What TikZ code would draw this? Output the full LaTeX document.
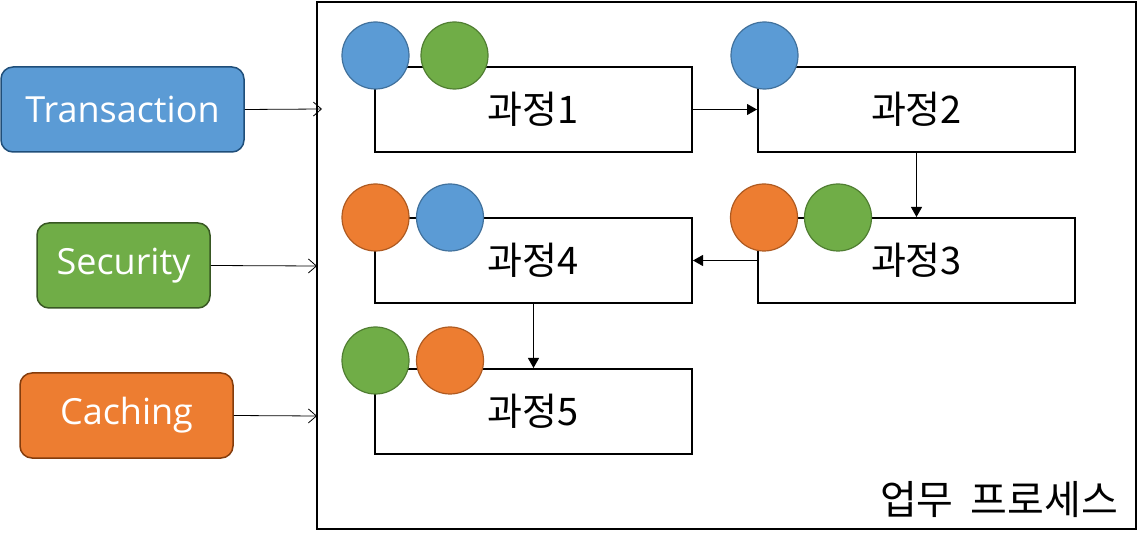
\documentclass[tikz,border=0pt]{standalone}
\usepackage{fontspec}
\setmainfont{Open Sans}
\newfontfamily\kor{Noto Sans CJK KR}
\usetikzlibrary{arrows.meta}
\definecolor{cblue}{HTML}{5B9BD5}
\definecolor{cbluel}{HTML}{41719C}
\definecolor{cblued}{HTML}{1F4E79}
\definecolor{cgreen}{HTML}{70AD47}
\definecolor{cgreenl}{HTML}{507E32}
\definecolor{cgreend}{HTML}{385723}
\definecolor{corange}{HTML}{ED7D31}
\definecolor{corangel}{HTML}{AE5A21}
\definecolor{coranged}{HTML}{843C0C}
\tikzset{
  aspect/.style={draw=#1, line width=1.5pt, rounded corners=12pt, minimum height=85pt, text=white, font=\fontsize{36}{40}\selectfont, inner sep=0pt},
  proc/.style={draw=black, line width=2pt, minimum width=317pt, minimum height=85pt, font=\kor\fontsize{38}{42}\selectfont, inner sep=0pt},
  dot/.style={circle, minimum size=67pt, inner sep=0pt, line width=1.2pt},
  bdot/.style={dot, fill=cblue, draw=cbluel},
  gdot/.style={dot, fill=cgreen, draw=cgreenl},
  odot/.style={dot, fill=corange, draw=corangel},
  inarrow/.style={line width=0.8pt, -{Straight Barb[length=8pt,width=14pt,line width=0.8pt]}},
  flow/.style={line width=0.8pt, -{Triangle[length=10pt,width=11pt]}},
}
\begin{document}
\begin{tikzpicture}[x=1pt,y=-1pt]
\useasboundingbox (0,0) rectangle (1144,545);
\node[draw=black, line width=2pt, minimum width=819pt, minimum height=527pt, inner sep=0pt] (frame) at (726.5,265.5) {};
\node[anchor=south east, font=\kor\fontsize{40}{44}\selectfont, inner sep=0pt] (title) at (1118,518) {업무\hspace{8pt} 프로세스};

\node[aspect=cblued, fill=cblue, minimum width=243pt] (tx) at (122.5,109.5) {Transaction};
\node[aspect=cgreend, fill=cgreen, minimum width=173pt] (sec) at (123.5,265.5) {Security};
\node[aspect=coranged, fill=corange, minimum width=213pt] (cache) at (126.5,415.5) {Caching};

\coordinate (txin) at (322,109);
\coordinate (secin) at (317,266);
\coordinate (cachein) at (317,416);
\draw[inarrow] (tx.east) -- (txin);
\draw[inarrow] (sec.east) -- (secin);
\draw[inarrow] (cache.east) -- (cachein);

\node[proc] (p1) at (533.5,109.5) {과정1};
\node[proc] (p2) at (916.5,109.5) {과정2};
\node[proc] (p3) at (916.5,260.5) {과정3};
\node[proc] (p4) at (533.5,260.5) {과정4};
\node[proc] (p5) at (533.5,411.5) {과정5};

\draw[flow] (p1.east) -- (p2.west);
\draw[flow] (p2.south) -- (p3.north);
\draw[flow] (p3.west) -- (p4.east);
\draw[flow] (p4.south) -- (p5.north);

\node[bdot] (c1a) at (375.5,55.5) {};
\node[gdot] (c1b) at (454.5,55.5) {};
\node[bdot] (c2a) at (764.5,55.5) {};
\node[odot] (c3a) at (764,217.5) {};
\node[gdot] (c3b) at (838,217.5) {};
\node[odot] (c4a) at (375.5,217.5) {};
\node[bdot] (c4b) at (450,217.5) {};
\node[gdot] (c5a) at (375.5,360.5) {};
\node[odot] (c5b) at (450,360.5) {};
\end{tikzpicture}
\end{document}
